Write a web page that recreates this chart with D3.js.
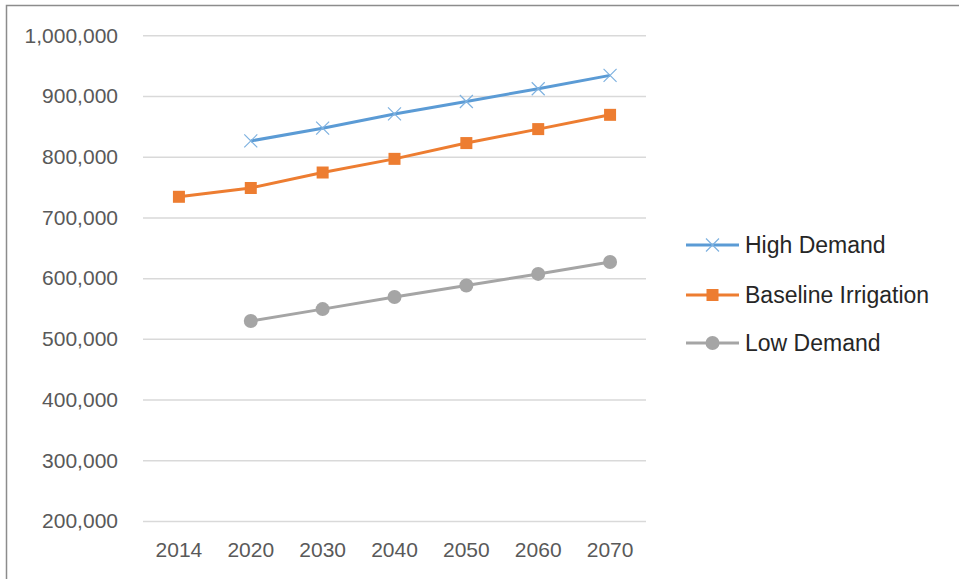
<!DOCTYPE html>
<html>
<head>
<meta charset="utf-8">
<script src="https://cdn.jsdelivr.net/npm/d3@7"></script>
<style>
  body { margin: 0; background: #fff; }
  svg { display: block; }
  .tick text { font-family: "Liberation Sans", Arial, sans-serif; }
</style>
</head>
<body>
<div id="chart"></div>
<script>
// data
var years = ['2014', '2020', '2030', '2040', '2050', '2060', '2070']
var high_demand = [null, 826000, 847000, 870500, 891000, 912000, 934000]
var baseline_irrigation = [734000, 748500, 774000, 796500, 822500, 845500, 869000]
var low_demand = [null, 529500, 549000, 569000, 588000, 607000, 626500]
var y_ticks = [200000, 300000, 400000, 500000, 600000, 700000, 800000, 900000, 1000000]

var series = [
    { name: 'High Demand', values: high_demand, color: '#5B9BD5', marker: 'x' },
    { name: 'Baseline Irrigation', values: baseline_irrigation, color: '#ED7D31', marker: 'square' },
    { name: 'Low Demand', values: low_demand, color: '#A5A5A5', marker: 'circle' }
]

var width = 959
var height = 579
var plot = { left: 143, right: 646, top: 35.3, bottom: 521 }

var svg = d3.select('#chart').append('svg')
    .attr('width', width)
    .attr('height', height)

// chart border (only top and left edges fall inside the crop)
svg.append('rect')
    .attr('x', 6.5).attr('y', 5.5)
    .attr('width', width + 20).attr('height', height + 20)
    .attr('fill', 'none')
    .attr('stroke', '#8c8c8c')
    .attr('stroke-width', 1.5)

var x_scale = d3.scaleBand().domain(years).range([plot.left, plot.right])
var y_scale = d3.scaleLinear().domain([200000, 1000000]).range([plot.bottom, plot.top])

// y axis + gridlines
var y_axis = d3.axisLeft(y_scale)
    .tickValues(y_ticks)
    .tickSize(-(plot.right - plot.left))
    .tickPadding(25)
    .tickFormat(d3.format(','))
var gy = svg.append('g')
    .attr('transform', 'translate(' + plot.left + ',0)')
    .call(y_axis)
gy.select('.domain').remove()
gy.selectAll('.tick line').attr('stroke', '#d9d9d9').attr('stroke-width', 1.5)
gy.selectAll('.tick text')
    .attr('fill', '#595959')
    .attr('font-size', 21)

// x axis labels
var x_axis = d3.axisBottom(x_scale).tickSize(0).tickPadding(21)
var gx = svg.append('g')
    .attr('transform', 'translate(0,' + plot.bottom + ')')
    .call(x_axis)
gx.select('.domain').remove()
gx.selectAll('.tick text')
    .attr('fill', '#595959')
    .attr('font-size', 21)

function cx(i) { return x_scale(years[i]) + x_scale.bandwidth() / 2 }

function draw_marker(g, type, color, x, y) {
    if (type == 'x') {
        var s = 6.5
        g.append('path')
            .attr('d', 'M' + (x - s) + ',' + (y - s) + 'L' + (x + s) + ',' + (y + s) +
                'M' + (x - s) + ',' + (y + s) + 'L' + (x + s) + ',' + (y - s))
            .attr('stroke', color)
            .attr('stroke-width', 1.2)
            .attr('fill', 'none')
    } else if (type == 'square') {
        g.append('rect')
            .attr('x', x - 6).attr('y', y - 6)
            .attr('width', 12).attr('height', 12)
            .attr('fill', color)
    } else {
        g.append('circle')
            .attr('cx', x).attr('cy', y).attr('r', 7)
            .attr('fill', color)
    }
}

var line = d3.line()
    .defined(function (d) { return d != null })
    .x(function (d, i) { return cx(i) })
    .y(function (d) { return y_scale(d) })

series.forEach(function (s) {
    var g = svg.append('g')
    g.append('path')
        .attr('d', line(s.values))
        .attr('fill', 'none')
        .attr('stroke', s.color)
        .attr('stroke-width', 3)
        .attr('stroke-linejoin', 'round')
    s.values.forEach(function (v, i) {
        if (v == null) return
        var mc = s.marker == 'x' ? '#7fb2e0' : s.color
        draw_marker(g, s.marker, mc, cx(i), y_scale(v))
    })
})

// legend
var legend_y = [245, 295, 343]
series.forEach(function (s, i) {
    var g = svg.append('g')
    g.append('line')
        .attr('x1', 686).attr('x2', 739)
        .attr('y1', legend_y[i]).attr('y2', legend_y[i])
        .attr('stroke', s.color)
        .attr('stroke-width', 3)
    draw_marker(g, s.marker, s.marker == 'x' ? '#7fb2e0' : s.color, 712.5, legend_y[i])
    g.append('text')
        .attr('x', 745)
        .attr('y', legend_y[i])
        .attr('dy', '0.36em')
        .attr('font-family', '"Liberation Sans", Arial, sans-serif')
        .attr('font-size', 23)
        .attr('fill', '#262626')
        .text(s.name)
})
</script>
</body>
</html>
